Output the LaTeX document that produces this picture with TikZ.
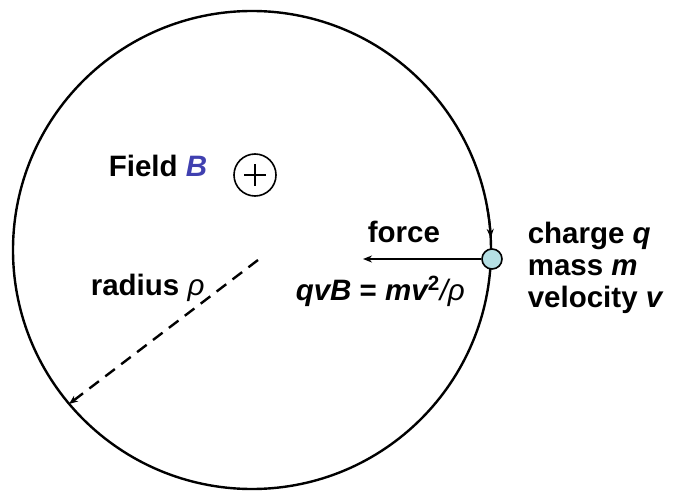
\documentclass[tikz,border=0pt]{standalone}
\usepackage{fontspec}
\setmainfont{Liberation Sans}
\usetikzlibrary{arrows.meta}
\definecolor{fieldblue}{RGB}{64,64,176}
\definecolor{chargefill}{RGB}{181,223,227}

\begin{document}
\begin{tikzpicture}[x=1pt,y=-1pt,>={Stealth[length=9pt,width=7pt]},line width=1.6pt,
    font=\fontsize{29.5}{32}\selectfont\bfseries]
		\tikzstyle{every node}=[inner sep=0pt,text=black]
		\tikzstyle{label}=[anchor=base west]
		\tikzstyle{particle}=[circle,draw,fill=chargefill,minimum size=20pt,line width=1.6pt]
		\useasboundingbox (0,0) rectangle (675,492);
		% orbit
		\coordinate (O) at (252,250);
		\draw[line width=2.4pt] (O) circle (239);
		\draw[->,line width=2pt] (O) ++(-10:239) arc (-10:-2.9:239);
		% field
		\node[label] (field) at (108,177) {Field {\itshape\color{fieldblue}B}};
		\node[circle,draw,minimum size=42pt,line width=1.6pt] (sym) at (255,175) {};
		\draw ([xshift=-11pt]sym.center) -- ([xshift=11pt]sym.center);
		\draw ([yshift=-11pt]sym.center) -- ([yshift=11pt]sym.center);
		% charge and force
		\node[particle] (q) at (492,259) {};
		\coordinate (fend) at (363,259);
		\draw[->] (q) -- (fend);
		\node[label] (force) at (367,242) {force};
		\node[label] (law) at (295,300) {{\itshape qvB} = {\itshape mv}\textsuperscript{2}{\mdseries\itshape /ρ}};
		\node[label] (charge) at (527,243) {charge {\itshape q}};
		\node[label] (mass) at (527,275) {mass {\itshape m}};
		\node[label] (vel) at (527,307) {velocity {\itshape v}};
		% radius
		\coordinate (rstart) at (258,260);
		\coordinate (rend) at (69,404);
		\draw[->,line width=2.4pt,dash pattern=on 12pt off 8pt] (rstart) -- (rend);
		\node[label] (rad) at (90,295) {radius {\mdseries\itshape ρ}};
\end{tikzpicture}
\end{document}
